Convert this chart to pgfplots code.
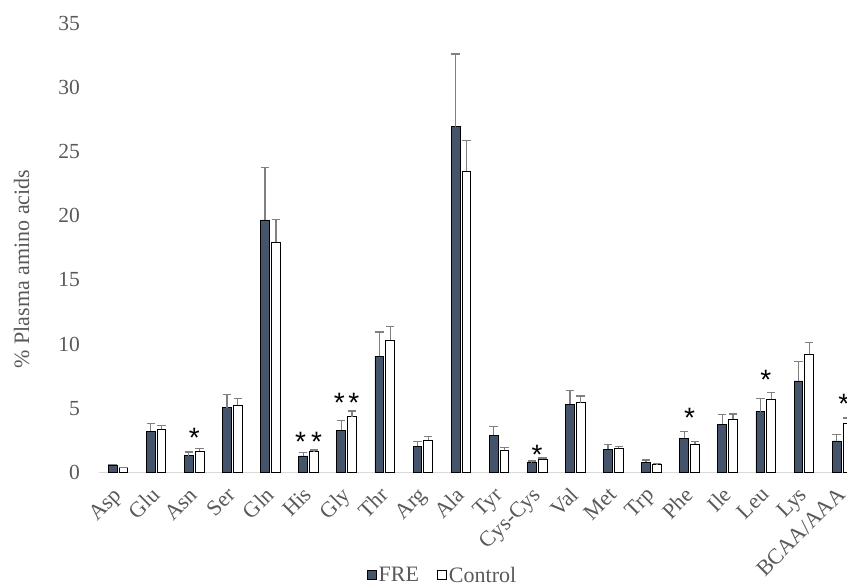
\documentclass[border=0pt]{standalone}
\usepackage{pgfplots}
\pgfplotsset{compat=1.18}
\usepackage{pgfplotstable}
\usepackage{fontspec}
\setmainfont{Liberation Serif}
\newfontfamily\starfont{Liberation Sans}

\definecolor{fre}{HTML}{44546A}
\definecolor{txt}{HTML}{595959}
\definecolor{axln}{HTML}{D9D9D9}
\definecolor{errc}{HTML}{808080}

% Plasma amino acid profile: mean and upper error (SD) per group
\pgfplotstableread{
idx fre   freerr ctl   ctlerr
0   0.58  0.08   0.38  0.03
1   3.22  0.62   3.38  0.30
2   1.33  0.28   1.69  0.18
3   5.06  1.01   5.24  0.55
4   19.67 4.10   17.95 1.77
5   1.30  0.26   1.63  0.14
6   3.32  0.73   4.36  0.44
7   9.06  1.89   10.33 1.03
8   2.05  0.39   2.54  0.26
9   26.93 5.65   23.48 2.36
10  2.93  0.65   1.74  0.21
11  0.78  0.13   1.04  0.10
12  5.32  1.09   5.45  0.52
13  1.82  0.36   1.90  0.15
14  0.81  0.18   0.68  0.03
15  2.68  0.54   2.23  0.18
16  3.76  0.75   4.15  0.42
17  4.75  1.01   5.71  0.55
18  7.14  1.50   9.21  0.91
19  2.47  0.49   3.84  0.42
}\aminos

\begin{document}
\begin{tikzpicture}
\path[use as bounding box] (0pt,0pt) rectangle (847pt,586pt);
\begin{scope}
\clip (0pt,0pt) rectangle (847pt,586pt);
\begin{axis}[
  at={(99pt,113.3pt)}, anchor=south west,
  scale only axis, width=762pt, height=449.7pt,
  xmin=-0.5, xmax=19.5, ymin=0, ymax=35,
  ytick={0,5,...,35},
  xtick={0,...,19},
  xticklabels={Asp,Glu,Asn,Ser,Gln,His,Gly,Thr,Arg,Ala,Tyr,Cys-Cys,Val,Met,Trp,Phe,Ile,Leu,Lys,BCAA/AAA},
  /pgf/number format/assume math mode=true,
  axis x line*=bottom, axis y line*=left,
  x axis line style={draw=axln, line width=1pt, -},
  y axis line style={draw=none},
  major tick length=0pt, tick style={draw=none},
  clip=false,
  ybar=2pt, bar width=8.8pt,
  every axis plot/.append style={line width=0.9pt},
  yticklabel style={font=\fontsize{21.5}{24}\selectfont, text=txt, anchor=east, inner sep=0pt, xshift=-19pt},
  xticklabel style={font=\fontsize{22}{24}\selectfont, text=txt, inner sep=0pt, yshift=-13pt, xshift=-6pt, rotate=45, anchor=north east},
  ylabel={\% Plasma amino acids},
  ylabel style={font=\fontsize{22}{24}\selectfont, text=txt, at={(rel axis cs:0,0.453)}, yshift=77.3pt, anchor=center},
  legend columns=2,
  legend style={at={(0.4508,-0.252)}, anchor=south, draw=none, fill=none, inner sep=0pt,
    font=\fontsize{22}{24}\selectfont, text=txt,
    /tikz/every even column/.append style={column sep=16pt}},
  legend image code/.code={\draw[#1, line width=0.9pt] (0pt,-4.5pt) rectangle (9pt,4.5pt);},
  error bars/y dir=plus, error bars/y explicit,
  error bars/error bar style={draw=errc, line width=1.3pt},
  error bars/error mark options={draw=errc, rotate=90, mark size=4.2pt, line width=1.3pt},
]
\addplot[fill=fre, draw=black] table[x=idx, y=fre, y error=freerr] {\aminos};
\addplot[fill=white, draw=black] table[x=idx, y=ctl, y error=ctlerr] {\aminos};
\legend{FRE, Control}

% significance markers
\begin{scope}[every node/.style={font=\starfont\fontsize{28}{28}\selectfont, inner sep=0pt, anchor=center, yshift=-6pt}]
\node at (axis cs:2,3.2) {*};
\node at (axis cs:4.79,2.9) {*};
\node at (axis cs:5.21,2.9) {*};
\node at (axis cs:5.81,5.87) {*};
\node at (axis cs:6.19,5.87) {*};
\node at (axis cs:11,1.82) {*};
\node at (axis cs:15,4.75) {*};
\node at (axis cs:17,7.73) {*};
\node at (axis cs:19.05,5.79) {*};
\end{scope}
\end{axis}
\end{scope}
\end{tikzpicture}
\end{document}
